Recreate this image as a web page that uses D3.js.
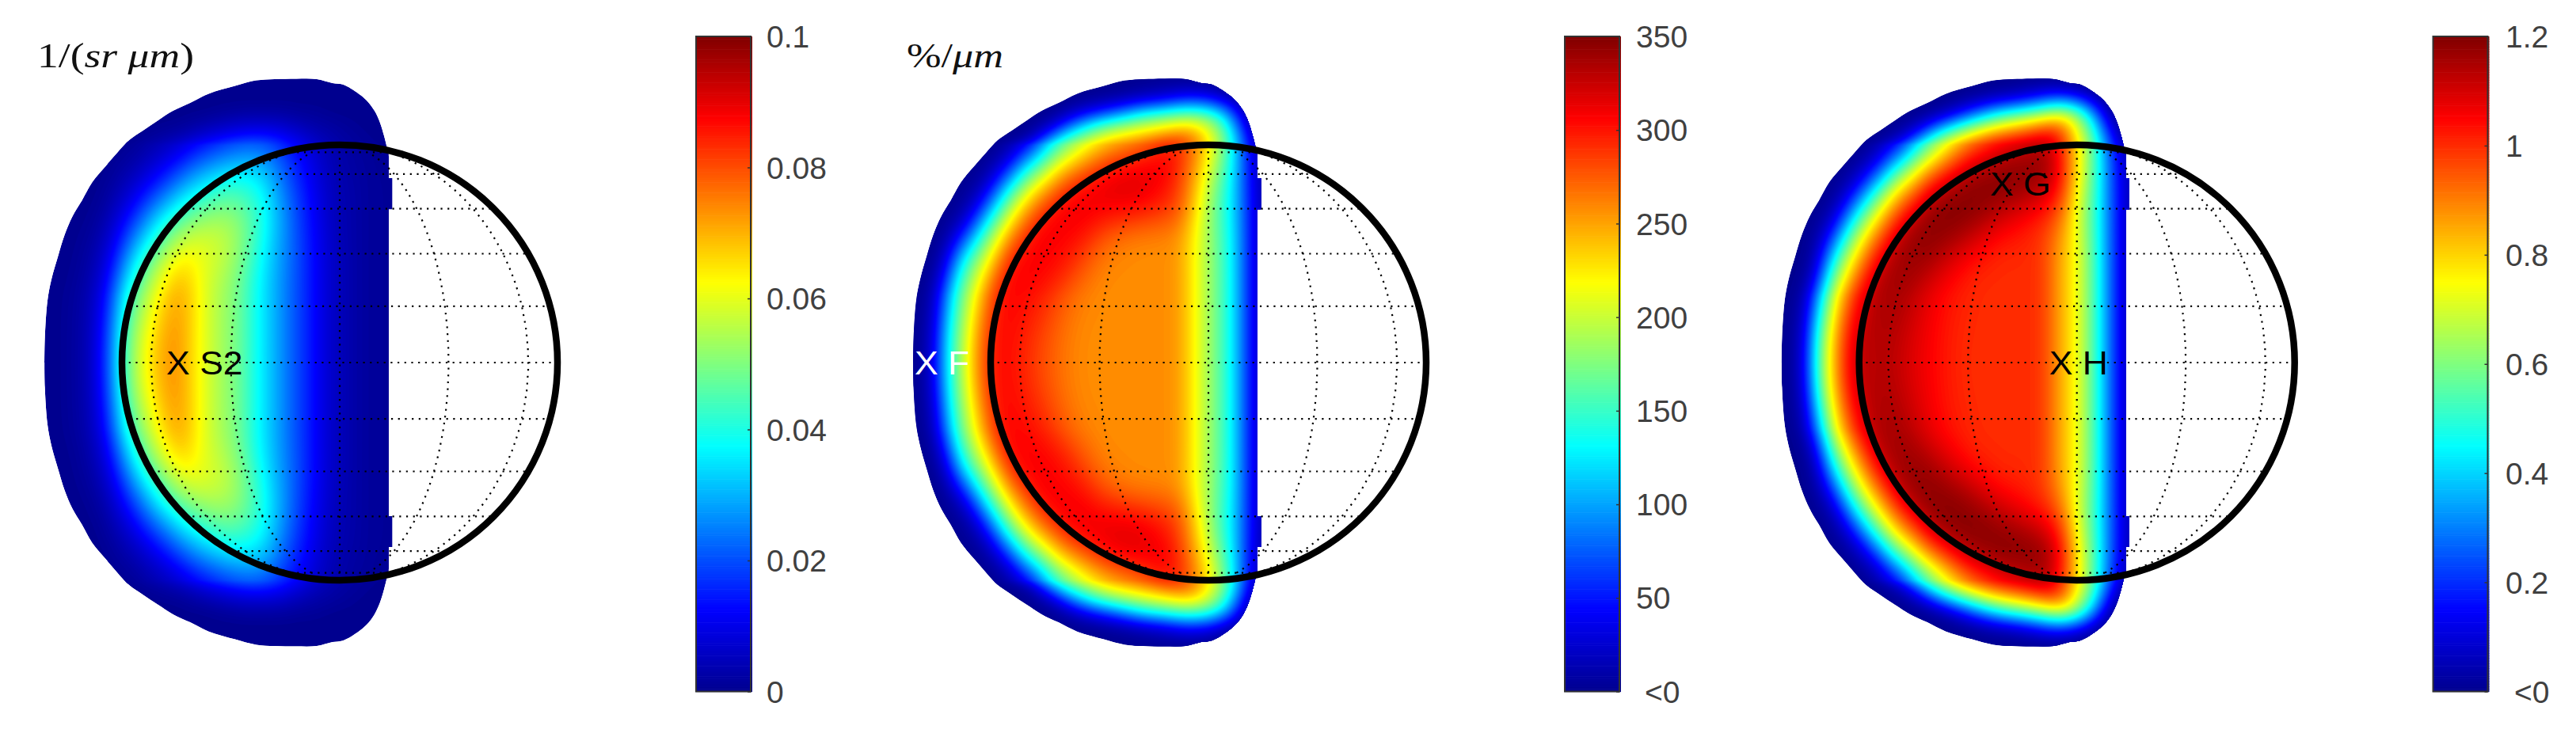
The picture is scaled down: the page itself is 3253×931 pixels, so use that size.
<!DOCTYPE html>
<html><head><meta charset="utf-8">
<script src="https://cdn.jsdelivr.net/npm/d3@7"></script>
<style>
html,body{margin:0;padding:0;background:#fff}
svg{display:block}
text{font-family:"Liberation Sans",Arial,sans-serif}
.ttl{font-family:"Liberation Serif",serif;fill:#111}
</style></head><body>
<svg id="c" width="3253" height="931"></svg>
<script>
// grid positions, in disc radii from the disc centre (upper half; the picture is mirrored about the equator)
const gridU=[-1.4,-1.35,-1.3,-1.25,-1.2,-1.15,-1.1,-1.05,-1.0,-.95,-.9,-.85,-.8,-.75,-.7,-.65,-.6,-.55,-.5,-.45,-.4,-.35,-.3,-.25,-.2,-.15,-.1,-.05,0,.05,.1,.15,.2,.25,.3];
const gridV=[0,.15,.3,.4,.5,.6,.7,.8,.9,1.0,1.05,1.1,1.15,1.2,1.25,1.3,1.35];
// panel A values in units of 0.001 /(sr um)
const valuesA=[
[0,0,0,1,2,5,12,25,42,54,61,68,72,74,68,63,58,54,51,47,40,35,30,25,20,16,11,7,5,3,2,1,1,1,0],
[0,0,0,1,2,5,11,24,41,53,61,68,72,74,69,63,58,54,51,47,41,35,30,25,20,16,11,7,5,3,2,1,1,1,0],
[0,0,0,1,2,4,9,18,35,44,52,59,67,71,70,63,58,54,51,47,40,35,30,25,20,16,11,7,5,3,2,1,1,1,0],
[0,0,0,0,1,3,7,14,28,40,49,57,64,68,68,62,58,55,52,47,41,35,30,25,20,16,11,7,5,3,2,1,1,1,0],
[0,0,0,0,1,2,5,10,20,31,40,47,54,60,63,62,60,58,55,50,44,37,31,26,21,16,11,7,5,3,2,1,1,1,0],
[0,0,0,0,0,1,3,7,13,22,30,38,46,51,55,57,58,57,55,51,45,39,32,26,20,15,11,7,4,3,2,1,1,1,0],
[0,0,0,0,0,0,1,4,8,13,20,28,33,39,44,47,49,51,51,49,45,40,33,27,20,15,10,6,4,3,2,1,1,1,0],
[0,0,0,0,0,0,0,2,4,7,11,15,21,27,32,36,39,42,43,42,40,36,30,23,18,13,9,6,4,3,2,1,1,1,0],
[0,0,0,0,0,0,0,0,2,3,5,8,11,15,20,25,28,31,33,34,34,32,27,21,16,12,8,5,3,2,2,1,1,1,0],
[0,0,0,0,0,0,0,0,0,0,2,3,4,6,8,11,13,16,18,20,21,20,18,15,12,9,6,4,3,2,1,1,0,0,0],
[0,0,0,0,0,0,0,0,0,0,0,1,2,3,4,6,8,9,11,12,13,13,12,10,8,6,4,3,2,1,1,0,0,0,0],
[0,0,0,0,0,0,0,0,0,0,0,0,0,0,1,2,3,4,5,6,6,6,6,5,4,3,2,2,1,1,0,0,0,0,0],
[0,0,0,0,0,0,0,0,0,0,0,0,0,0,0,0,0,1,1,2,2,2,2,2,1,1,1,0,0,0,0,0,0,0,0],
[0,0,0,0,0,0,0,0,0,0,0,0,0,0,0,0,0,0,0,0,0,0,0,0,0,0,0,0,0,0,0,0,0,0,0],
[0,0,0,0,0,0,0,0,0,0,0,0,0,0,0,0,0,0,0,0,0,0,0,0,0,0,0,0,0,0,0,0,0,0,0],
[0,0,0,0,0,0,0,0,0,0,0,0,0,0,0,0,0,0,0,0,0,0,0,0,0,0,0,0,0,0,0,0,0,0,0],
[0,0,0,0,0,0,0,0,0,0,0,0,0,0,0,0,0,0,0,0,0,0,0,0,0,0,0,0,0,0,0,0,0,0,0]];
// panel B values in %/um
const valuesB=[
[0,1,7,46,135,178,226,270,298,305,300,293,285,277,270,262,260,258,258,258,258,258,258,258,258,256,240,212,188,162,136,92,38,15,5],
[0,1,6,40,125,172,220,265,296,305,303,296,288,280,273,265,261,258,258,258,258,258,258,258,258,256,240,212,188,162,136,92,38,15,5],
[0,0,2,20,100,155,195,236,280,306,308,307,303,294,282,272,262,260,259,258,258,258,258,258,258,256,240,212,188,162,136,92,38,15,5],
[0,0,0,8,60,135,175,215,258,295,307,308,308,306,300,292,281,270,260,259,258,258,258,258,258,256,240,212,188,162,136,92,38,15,5],
[0,0,0,0,18,100,150,177,212,262,302,308,309,309,307,300,290,279,270,262,260,259,258,258,258,256,240,212,188,162,136,92,38,15,5],
[0,0,0,0,2,10,60,135,175,215,253,285,309,310,310,310,308,300,285,275,267,262,260,259,258,255,240,212,188,160,134,92,38,15,5],
[0,0,0,0,0,2,9,44,117,160,208,243,272,303,310,312,312,312,312,312,312,310,305,300,295,288,265,224,185,155,130,90,38,15,5],
[0,0,0,0,0,0,1,6,30,105,155,190,222,247,275,303,311,315,316,317,318,318,316,308,300,285,268,234,195,160,130,90,35,15,5],
[0,0,0,0,0,0,0,0,1,10,50,125,157,183,216,237,258,277,295,309,316,318,318,318,316,300,272,247,212,175,135,90,30,15,5],
[0,0,0,0,0,0,0,0,0,0,2,10,44,107,145,168,191,214,227,237,247,258,271,287,303,305,290,265,235,195,150,90,30,15,5],
[0,0,0,0,0,0,0,0,0,0,0,1,8,40,85,131,152,173,195,216,224,232,238,245,252,259,263,245,215,180,140,80,15,0,0],
[0,0,0,0,0,0,0,0,0,0,0,0,0,5,15,50,85,118,138,150,162,173,183,193,203,213,220,215,198,170,120,50,5,0,0],
[0,0,0,0,0,0,0,0,0,0,0,0,0,0,3,10,20,35,50,68,88,110,131,138,145,152,156,155,145,120,85,25,0,0,0],
[0,0,0,0,0,0,0,0,0,0,0,0,0,0,0,0,2,4,7,11,15,21,29,37,44,60,68,68,60,45,20,3,0,0,0],
[0,0,0,0,0,0,0,0,0,0,0,0,0,0,0,0,0,0,0,0,2,4,6,8,10,13,15,15,13,4,0,0,0,0,0],
[0,0,0,0,0,0,0,0,0,0,0,0,0,0,0,0,0,0,0,0,0,0,1,2,3,3,3,2,1,0,0,0,0,0,0],
[0,0,0,0,0,0,0,0,0,0,0,0,0,0,0,0,0,0,0,0,0,0,0,0,0,0,0,0,0,0,0,0,0,0,0]];
// panel C values in units of 0.01
const valuesC=[
[0,0,2,11,50,72,90,107,112,113,113,113,110,108,106,104,102,101,100,100,100,100,100,100,100,98,89,81,75,61,47,28,12,5,2],
[0,0,2,9,46,70,88,106,112,114,114,114,112,109,107,105,103,101,100,100,100,100,100,100,100,98,89,81,75,61,47,28,12,5,2],
[0,0,0,3,25,57,77,92,107,113,116,116,115,112,108,105,103,102,101,100,100,100,100,100,100,98,89,81,75,61,47,28,12,5,2],
[0,0,0,0,7,40,63,80,94,107,114,116,117,116,113,110,107,104,102,100,100,100,100,100,100,98,89,81,75,61,47,28,12,5,2],
[0,0,0,0,3,25,50,66,81,96,108,114,117,118,118,116,112,109,106,104,102,100,100,100,100,98,89,81,75,61,47,28,12,5,2],
[0,0,0,0,1,5,25,50,66,79,92,106,114,118,119,120,119,118,115,111,108,105,104,102,100,97,92,83,74,60,47,28,12,5,2],
[0,0,0,0,0,1,4,24,47,62,76,87,100,110,116,119,120,120,120,119,117,114,110,108,105,103,98,88,72,58,46,28,12,5,2],
[0,0,0,0,0,0,0,3,14,37,55,71,81,88,103,112,117,119,120,120,120,120,120,119,117,113,108,96,77,62,47,28,12,5,2],
[0,0,0,0,0,0,0,0,0,4,17,40,55,68,78,87,96,105,112,116,118,120,120,120,120,120,112,99,80,63,47,28,12,5,2],
[0,0,0,0,0,0,0,0,0,0,2,5,15,35,50,61,72,81,90,95,100,105,108,111,113,115,108,95,80,65,47,25,8,2,0],
[0,0,0,0,0,0,0,0,0,0,0,2,5,13,29,47,57,67,74,82,89,92,95,98,101,104,104,92,75,60,42,18,2,0,0],
[0,0,0,0,0,0,0,0,0,0,0,0,0,2,6,16,27,38,48,55,62,68,73,77,82,87,90,86,70,55,35,8,0,0,0],
[0,0,0,0,0,0,0,0,0,0,0,0,0,0,0,1,4,10,18,28,37,45,49,53,57,61,66,66,58,44,20,1,0,0,0],
[0,0,0,0,0,0,0,0,0,0,0,0,0,0,0,0,0,1,3,5,8,11,14,18,23,30,36,34,28,16,4,0,0,0,0],
[0,0,0,0,0,0,0,0,0,0,0,0,0,0,0,0,0,0,0,0,1,1,2,3,4,5,6,5,3,1,0,0,0,0,0],
[0,0,0,0,0,0,0,0,0,0,0,0,0,0,0,0,0,0,0,0,0,0,0,0,1,1,1,1,0,0,0,0,0,0,0],
[0,0,0,0,0,0,0,0,0,0,0,0,0,0,0,0,0,0,0,0,0,0,0,0,0,0,0,0,0,0,0,0,0,0,0]];
// outline of the coloured region (upper half, round the arc, then the stepped right-hand cut), disc radii
const arcU=[-1.356,-1.354,-1.342,-1.324,-1.293,-1.263,-1.227,-1.184,-1.136,-1.075,-1.02,-.966,-.905,-.835,-.766,-.687,-.602,-.481,-.384,-.299,-.2,-.105,-.033,.015,.087,.124,.16,.185,.204,.216,.225];
const arcV=[0,.114,.284,.381,.49,.587,.672,.744,.829,.902,.965,1.023,1.065,1.112,1.156,1.193,1.235,1.271,1.296,1.302,1.304,1.302,1.284,1.277,1.235,1.204,1.156,1.102,1.04,.993,.96];
const cutU=[.225,.225,.241,.241,.225,.225];
const cutV=[.96,.847,.847,.705,.705,0];
const ticksA=[0,20,40,60,80,100];
const ticksB=[0,50,100,150,200,250,300,350];
const ticksC=[0,20,40,60,80,100,120];
const labelsA=["0","0.02","0.04","0.06","0.08","0.1"];
const labelsB=["<0","50","100","150","200","250","300","350"];
const labelsC=["<0","0.2","0.4","0.6","0.8","1","1.2"];
const jetStops=["#00008f","#0000ff","#007fff","#00ffff","#7fff7f","#ffff00","#ff7f00","#ff0000","#800000"];
const panels=[
 {cx:429,barX:879,labX:968,zeroX:968,values:valuesA,ticks:ticksA,labels:labelsA,max:100},
 {cx:1526,barX:1976,labX:2066,zeroX:2077,values:valuesB,ticks:ticksB,labels:labelsB,max:350},
 {cx:2622.7,barX:3072.5,labX:3164,zeroX:3175,values:valuesC,ticks:ticksC,labels:labelsC,max:120}];
const marks=[
 {p:0,t:"X S2",u:-.796,v:0,c:"#000"},
 {p:1,t:"X F",u:-1.349,v:0,c:"#fff"},
 {p:2,t:"X G",u:-.399,v:.822,c:"#000"},
 {p:2,t:"X H",u:-.127,v:0,c:"#000"}];
const titles=[
 {p:0,x:47,parts:[["1/(",0],["sr",1],[" ",0],["μm",1],[")",0]],len:198},
 {p:1,x:1145,parts:[["%/",0],["μm",1]],len:122}];

const R=275,cy=458,barW=71,barTop=46,barBot=873.5,UP=4;
const svg=d3.select("#c");
const nx=gridU.length,ny=gridV.length*2-1;
const gridVFull=gridV.slice().reverse().concat(gridV.slice(1).map(v=>-v));
const stretch=(sel,f)=>sel.each(function(){d3.select(this).attr("textLength",this.getComputedTextLength()*f).attr("lengthAdjust","spacingAndGlyphs");});
panels.forEach((p,i)=>{
  p.values.forEach((r,k)=>{if(r.length!==nx)throw new Error("row "+i+"/"+k+" has "+r.length);});
  const px=d3.scaleLinear().domain([-1,1]).range([p.cx-R,p.cx+R]);
  const py=d3.scaleLinear().domain([1,-1]).range([cy-R,cy+R]);
  const color=d3.scaleLinear().domain(d3.range(9).map(k=>p.max*k/8)).range(jetStops).clamp(true);
  const g=svg.append("g");
  const arcLine=d3.line().curve(d3.curveCatmullRom).x(d=>px(d[0])).y(d=>py(d[1]));
  const straight=d3.line().x(d=>px(d[0])).y(d=>py(d[1]));
  const arc=arcU.map((u,k)=>[u,arcV[k]]);
  const cut=cutU.map((u,k)=>[u,cutV[k]]);
  const mir=a=>a.slice().reverse().map(d=>[d[0],-d[1]]);
  const outline=arcLine(arc)+straight(cut).replace(/^M/,"L")+straight(mir(cut)).replace(/^M/,"L")+arcLine(mir(arc)).replace(/^M/,"L")+"Z";
  svg.append("clipPath").attr("id","clip"+i).append("path").attr("d",outline);
  const heat=g.append("g").attr("clip-path",`url(#clip${i})`);
  heat.append("path").attr("d",outline).attr("fill",color(0));
  // filled contours of the read-off grid: each read value covers its grid cell, softened with d3.blur2
  const rows=p.values.slice().reverse().concat(p.values.slice(1));
  const W=nx*UP,H=ny*UP,fine=new Float64Array(W*H);
  for(let y=0;y<H;y++)for(let x=0;x<W;x++)fine[y*W+x]=rows[Math.floor(y/UP)][Math.floor(x/UP)];
  d3.blur2({data:fine,width:W,height:H},2.5);
  const th=d3.range(1,200).map(k=>p.max*k/200);
  const cs=d3.contours().size([W,H]).thresholds(th)(fine);
  const toX=d3.scaleLinear().domain(gridU.map((_,k)=>(k+.5)*UP)).range(gridU.map(u=>px(u)));
  const toY=d3.scaleLinear().domain(gridVFull.map((_,k)=>(k+.5)*UP)).range(gridVFull.map(v=>py(v)));
  const gp=d3.geoPath(d3.geoTransform({point(x,y){this.stream.point(toX(x),toY(y));}}));
  heat.selectAll("path.c").data(cs).join("path").attr("class","c")
    .attr("d",gp).attr("fill",d=>color(d.value+p.max/400));
  // graticule
  const proj=d3.geoOrthographic().scale(R).translate([p.cx,cy]).clipAngle(90).precision(.3);
  const grat=d3.geoGraticule().extent([[-180,-75],[180,75.01]]).step([30,15]);
  g.append("path").attr("d",d3.geoPath(proj)(grat())).attr("fill","none")
    .attr("stroke","#000").attr("stroke-width",2.2).attr("stroke-dasharray","2.2 6.5");
  // disc
  g.append("circle").attr("cx",p.cx).attr("cy",cy).attr("r",275).attr("fill","none")
    .attr("stroke","#000").attr("stroke-width",8.5);
  // colour bar
  const barY=d3.scaleLinear().domain([0,p.max]).range([barBot,barTop]);
  const bar=g.append("g");
  bar.selectAll("rect").data(d3.range(256)).join("rect")
    .attr("x",p.barX).attr("width",barW)
    .attr("y",k=>barY(p.max*(k+1)/256)).attr("height",(barBot-barTop)/256+.6)
    .attr("fill",k=>color(p.max*(k+.5)/256));
  const axis=d3.axisRight(barY).tickValues(p.ticks).tickSize(-4).tickPadding(0)
    .tickFormat((d,k)=>p.labels[k]);
  const ax=g.append("g").attr("transform",`translate(${p.barX+barW-2},0)`).call(axis);
  ax.select(".domain").remove();
  ax.selectAll("line").attr("stroke","#333").attr("stroke-width",1.5);
  ax.selectAll("text").attr("font-size",39).attr("fill","#404040")
    .attr("x",(d,k)=>(k===0?p.zeroX:p.labX)-p.barX-barW+2).attr("dy","0.35em").attr("text-anchor","start");
  g.append("rect").attr("x",p.barX).attr("y",barTop).attr("width",barW-2).attr("height",barBot-barTop)
    .attr("fill","none").attr("stroke","#333").attr("stroke-width",2);
  // point labels
  marks.filter(m=>m.p===i).forEach(m=>{
    g.append("text").text(m.t).attr("x",px(m.u)).attr("y",py(m.v)).attr("dy","0.36em")
      .attr("font-size",42).attr("fill",m.c).call(stretch,1.06);
  });
  titles.filter(t=>t.p===i).forEach(t=>{
    const tx=g.append("text").attr("class","ttl").attr("x",t.x).attr("y",85).attr("font-size",44)
      .attr("xml:space","preserve").attr("textLength",t.len).attr("lengthAdjust","spacingAndGlyphs");
    t.parts.forEach(q=>tx.append("tspan").text(q[0]).attr("font-style",q[1]?"italic":"normal"));
  });
});
</script></body></html>
